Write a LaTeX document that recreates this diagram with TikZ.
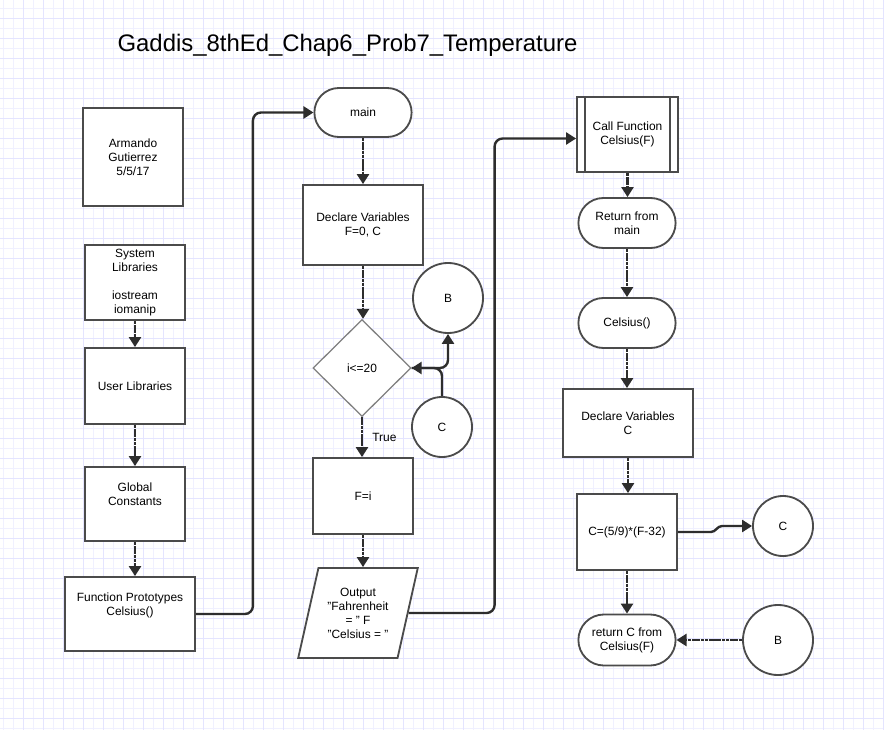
\documentclass[tikz,border=0pt]{standalone}
\usepackage{fontspec}
\setmainfont{Liberation Sans}
\usetikzlibrary{
    positioning,
    shapes.geometric,
    shapes.misc,
    arrows.meta
    }

\definecolor{gridminor}{RGB}{240,240,255}
\definecolor{gridmajor}{RGB}{228,228,255}
\definecolor{shapeline}{RGB}{75,75,75}
\definecolor{flowline}{RGB}{45,45,45}

\begin{document}
\begin{tikzpicture}[x=0.025cm, y=-0.025cm]
\tikzset{chart/.style =
        {
            draw=shapeline,
            line width=1.3pt,
            fill=white,
            align=center,
            inner sep=1pt,
            font=\fontsize{8.5pt}{10pt}\selectfont
        }
}

\tikzset{process/.style =
        {
            chart,
            rectangle,
            minimum width=2.5cm,
            minimum height=1.9cm
        }
}

\tikzset{terminal/.style =
        {
            chart,
            rounded rectangle,
            minimum width=2.5cm,
            minimum height=1.25cm
        }
}

\tikzset{decision/.style =
        {
            chart,
            diamond,
            draw=gray,
            line width=0.9pt,
            minimum width=2.45cm,
            minimum height=2.425cm
        }
}

\tikzset{io/.style =
        {
            chart,
            trapezium,
            trapezium left angle=73,
            trapezium right angle=107,
            trapezium stretches=true,
            minimum width=3cm,
            minimum height=2.25cm
        }
}

\tikzset{connector/.style =
        {
            chart,
            circle,
            minimum size=1.75cm
        }
}

\tikzset{flow/.style = {
            line width=1.7pt,
            flowline,
            dash pattern=on 2.5pt off 0.5pt,
            -{Triangle[width=0.3cm, length=0.25cm]}
        }
}

\tikzset{link/.style = {
            flow,
            solid,
            rounded corners=0.2cm
        }
}

\tikzset{gridline/.style = { gridminor, line width=0.7pt } }

		\fill[white] (0,0) rectangle (884,730);
		\useasboundingbox (0,0) rectangle (884,730);
		\foreach \g in {3,13,...,883}
		\draw[gridline] (\g,0) -- (\g,730);
		\foreach \g in {8,18,...,728}
		\draw[gridline] (0,\g) -- (884,\g);
		\foreach \g in {23,43,...,883}
		\draw[gridline, gridmajor] (\g,0) -- (\g,730);
		\foreach \g in {18,38,...,728}
		\draw[gridline, gridmajor] (0,\g) -- (884,\g);

		\node[anchor=base, font=\fontsize{17pt}{20pt}\selectfont] (title) at (347.5,51) {Gaddis\_8thEd\_Chap6\_Prob7\_Temperature};

		\node[process, minimum height=2.45cm] (author) at (133,157) {Armando\\Gutierrez\\5/5/17};
		\node[process, minimum height=1.875cm] (sys) at (135,282.5) {System\\Libraries\\[10pt]iostream\\iomanip};
		\node[process] (user) at (135,386) {User Libraries};
		\node[process, minimum height=1.85cm] (glob) at (135,504) {Global\\Constants\\[4pt]};
		\node[process, minimum width=3.25cm, minimum height=1.85cm] (proto) at (130,614) {Function Prototypes\\Celsius()\\[4pt]};

		\node[terminal, minimum height=1.225cm] (main) at (363,112.5) {main};
		\node[process, minimum width=3cm, minimum height=2cm] (decl) at (363,225) {Declare Variables\\F=0, C};
		\node[decision] (dec) at (362,368) {i<=20};
		\node[connector] (b1) at (448,298) {B};
		\node[connector, minimum size=1.5cm] (c1) at (442,427) {C};
		\node[process] (fi) at (363,496) {F=i};
		\node[io] (out) at (358,613) {Output\\"Fahrenheit\\= " F\\"Celsius = "};
		\node[chart, draw=none, fill=none, anchor=west] (truelbl) at ([xshift=0.2cm, yshift=-0.5cm]dec.south) {True};

		\node[process, minimum width=2.525cm, minimum height=1.875cm] (call) at (627.5,134.5) {Call Function\\Celsius(F)};
		\draw[chart, fill=none] ([xshift=0.225cm]call.north west) -- ([xshift=0.225cm]call.south west);
		\draw[chart, fill=none] ([xshift=-0.225cm]call.north east) -- ([xshift=-0.225cm]call.south east);
		\node[terminal] (retmain) at (627,223) {Return from\\main};
		\node[terminal] (cels) at (627,323) {Celsius()};
		\node[process, minimum width=3.25cm, minimum height=1.7cm] (declc) at (628,423) {Declare Variables\\C};
		\node[process] (cexpr) at (627,532) {C=(5/9)*(F-32)};
		\node[connector, minimum size=1.5cm] (c2) at (783,526) {C};
		\node[terminal, minimum height=1.275cm] (retc) at (627,640) {return C from\\Celsius(F)};
		\node[connector] (b2) at (778,640) {B};

		\foreach \from / \to in
			{sys/user,
				user/glob,
				glob/proto,
				main/decl,
				decl/dec,
				dec/fi,
				fi/out,
				call/retmain,
				retmain/cels,
				cels/declc,
				declc/cexpr,
				cexpr/retc}
			{
				\draw [flow] (\from.south) -- (\from.south |- \to.north);
			}
		\draw [flow] (b2.west) -- (retc.east);

		\draw [link] (proto.east) -- ++(57,0) |- (main.west);
		\draw [link] (out.east) -- ++(86,0) |- ([yshift=-0.1cm]call.west);
		\draw [link] (dec.east) -| (b1.south);
		\draw [link] (c1.north) |- (dec.east);
		\draw [link, rounded corners=0pt] (cexpr.east) -- ++(33,0) to[out=0, in=180] ([xshift=-0.75cm]c2.west) -- (c2.west);

	\end{tikzpicture}
\end{document}
